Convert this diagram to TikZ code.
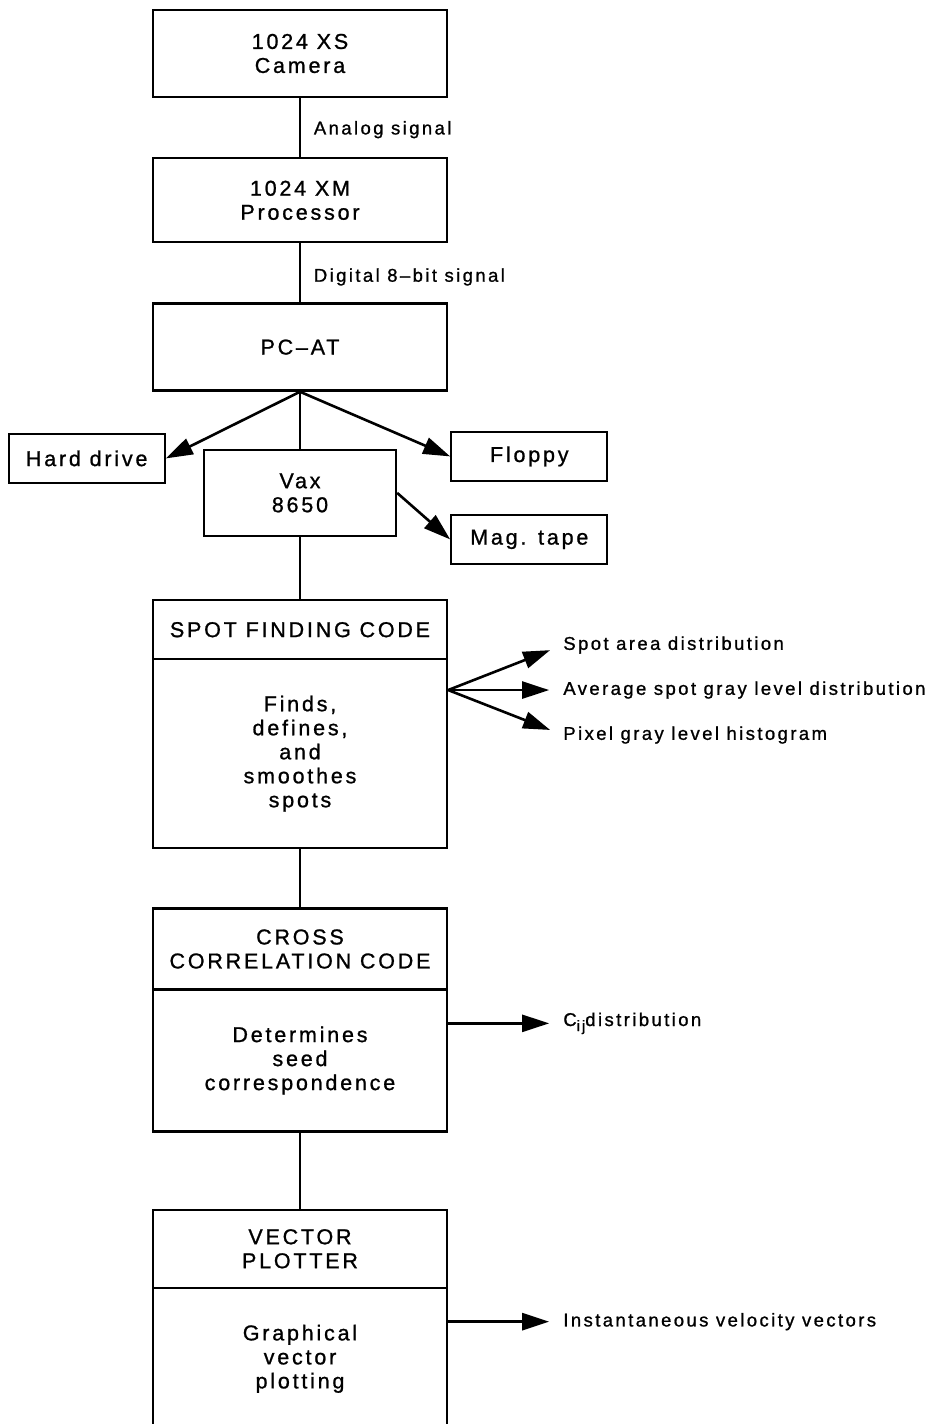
\documentclass[tikz,border=0pt]{standalone}
\usepackage{fontspec}
\newfontfamily\diagfont{Liberation Sans}[LetterSpace=13, FakeBold=1]
\usetikzlibrary{arrows.meta,positioning}

\begin{document}
\begin{tikzpicture}[
    x=1pt, y=-1pt,
    node distance=59pt,
    block/.style={draw, line width=2.3pt, minimum width=294pt, inner sep=0pt, align=center, font=\diagfont\fontsize{21.5}{24}\selectfont},
    device/.style={block, minimum width=156pt, minimum height=49pt},
    link/.style={line width=1.8pt},
    arrow/.style={-{Triangle[length=27pt,width=17pt]}, line width=2.6pt},
    siglabel/.style={font=\diagfont\fontsize{18.5}{22}\selectfont, inner sep=0pt},
    outlabel/.style={siglabel, anchor=west},
]
    \clip (0,0) rectangle (935,1424);

    % Acquisition chain
    \node[block, minimum height=87pt] (camera) at (300,53.5) {1024 XS\\Camera};
    \node[block, minimum height=84pt, below=of camera] (proc) {1024 XM\\Processor};
    \node[block, minimum height=87pt, below=of proc] (pcat) {PC–AT};
    \node[block, minimum width=192pt, minimum height=86pt, below=57pt of pcat] (vax) {Vax\\8650};

    % Storage
    \node[device, left=37pt of vax, yshift=34.5pt] (hard) {Hard drive};
    \node[device, right=53pt of vax, yshift=36.5pt] (floppy) {Floppy};
    \node[device, right=53pt of vax, yshift=-46.5pt] (tape) {Mag. tape};

    % Spot finding
    \node[block, minimum height=59pt, below=62pt of vax] (spothead) {SPOT FINDING CODE};
    \node[block, minimum height=189pt, below=-2.3pt of spothead] (spotbody) {Finds,\\defines,\\and\\smoothes\\spots};

    % Cross correlation
    \node[block, minimum height=81pt, below=58pt of spotbody] (crosshead) {CROSS\\CORRELATION CODE};
    \node[block, minimum height=142pt, below=-2.3pt of crosshead] (crossbody) {Determines\\seed\\correspondence};

    % Vector plotter
    \node[block, minimum height=78pt, below=76pt of crossbody] (vechead) {VECTOR\\PLOTTER};
    \node[block, minimum height=142pt, below=-2.3pt of vechead] (vecbody) {Graphical\\vector\\plotting};

    % Outputs
    \coordinate[below=32pt of spotbody.north east] (fan);
    \node[outlabel, right=115pt of fan] (avg) {Average spot gray level distribution};
    \node[outlabel, right=115pt of fan, yshift=45pt] (area) {Spot area distribution};
    \node[outlabel, right=115pt of fan, yshift=-45pt] (pixel) {Pixel gray level histogram};
    \coordinate[below=35pt of crossbody.north east] (cijpt);
    \node[outlabel, right=115pt of cijpt] (cij) {C\raisebox{-5pt}{\fontsize{15}{15}\selectfont ij}distribution};
    \coordinate[below=35pt of vecbody.north east] (velpt);
    \node[outlabel, right=115pt of velpt] (vel) {Instantaneous velocity vectors};

    % Links
    \draw[link] (camera) -- node[siglabel, right=13pt, yshift=-2pt] {Analog signal} (proc);
    \draw[link] (proc) -- node[siglabel, right=13pt, yshift=-4pt] {Digital 8–bit signal} (pcat);
    \draw[link] (pcat) -- (vax);
    \draw[link] (vax) -- (spothead);
    \draw[link] (spotbody) -- (crosshead);
    \draw[link] (crossbody) -- (vechead);

    % Arrows
    \draw[arrow] (pcat.south) -- (hard.east);
    \draw[arrow] (pcat.south) -- (floppy.west);
    \draw[arrow] (vax.east) -- (tape.west);
    \draw[arrow, shorten >=14pt] (fan) -- (area.west);
    \draw[arrow, shorten >=14pt] (fan) -- (avg.west);
    \draw[arrow, shorten >=14pt] (fan) -- (pixel.west);
    \draw[arrow, shorten >=14pt] (cijpt) -- (cij.west);
    \draw[arrow, shorten >=14pt] (velpt) -- (vel.west);
\end{tikzpicture}
\end{document}
